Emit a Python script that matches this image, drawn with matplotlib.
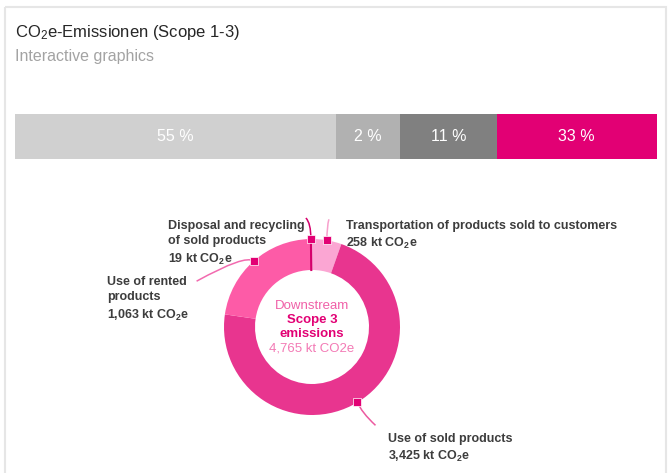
import matplotlib
matplotlib.use("Agg")
import matplotlib.pyplot as plt
from matplotlib.patches import Rectangle, PathPatch
from matplotlib.path import Path
import numpy as np

plt.rcParams['font.family'] = ['Liberation Sans Narrow', 'Liberation Sans', 'DejaVu Sans']
plt.rcParams['mathtext.default'] = 'regular'

# stacked bar (widths as drawn, labels as printed)
bar_labels = ["55 %", "2 %", "11 %", "33 %"]
bar_shares = [50, 10, 15, 25]
bar_colors = ["#d0d0d0", "#b1b1b1", "#808080", "#e20074"]

# donut: downstream scope 3 emissions, kt CO2e, clockwise from top
donut_names = ["Transportation of products sold to customers", "Use of sold products",
               "Use of rented\nproducts", "Disposal and recycling\nof sold products"]
donut_values = [258, 3425, 1063, 19]
donut_colors = ["#fba6d3", "#e8358f", "#fd5ba7", "#d5006b"]
donut_total = 4765

W, H = 669, 473
fig = plt.figure(figsize=(W / 100, H / 100), dpi=100)
ax = fig.add_axes([0, 0, 1, 1])

# donut in pixel coords (y down)
cx, cy, r_out, r_in = 312, 327, 88, 57
ax.pie(donut_values, colors=donut_colors, radius=r_out, center=(cx, cy),
       startangle=-90, counterclock=True,
       wedgeprops=dict(width=r_out - r_in, linewidth=0))
ax.set_xlim(0, W)
ax.set_ylim(H, 0)
ax.axis("off")

# card border
ax.add_patch(Rectangle((5, 7), 661, 480, fill=False, edgecolor="#e6e6e6", lw=1.5))

ax.text(15, 33, "CO$_2$e-Emissionen (Scope 1-3)", fontsize=12, color="#262626", va="center")
ax.text(15, 56, "Interactive graphics", fontsize=11.5, color="#a3a3a3", va="center")

# markers + leader lines + labels
angles = []
acc = 0
for v in donut_values:
    angles.append(360 * (acc + v / 2) / donut_total)
    acc += v

label_pos = [(346, 227), (388, 440), (107, 283), (168, 227)]
leader_ctrl = [[(0, -14), (2, -21)], [(4, 10), (18, 23)], [(-8, -7), (-57, 20)], [(0, -16), (-5, -21)]]
leader_colors = ["#f7a0cc", "#ec5aa0", "#f26aaf", "#d5006b"]

for i, name in enumerate(donut_names):
    a = np.radians(angles[i])
    mx, my = cx + r_out * np.sin(a), cy - r_out * np.cos(a)
    (c1x, c1y), (ex, ey) = leader_ctrl[i]
    path = Path([(mx, my), (mx + c1x, my + c1y), (mx + ex, my + ey)],
                [Path.MOVETO, Path.CURVE3, Path.CURVE3])
    ax.add_patch(PathPatch(path, fill=False, edgecolor=leader_colors[i], lw=1.1))
    ax.plot(mx, my, marker="s", ms=6, color="#e20074", mec="white", mew=0.5, zorder=5)
    lx, ly = label_pos[i]
    txt = name + "\n" + f"{donut_values[i]:,} kt CO$_2$e"
    ax.text(lx, ly - 7, txt, fontsize=9, fontweight="bold", color="#3d3d3d",
            ha="left", va="top", linespacing=1.38)

# disposal thin line across ring
a = np.radians(angles[3])
ax.plot([cx + r_in * np.sin(a), cx + r_out * np.sin(a)],
        [cy - r_in * np.cos(a), cy - r_out * np.cos(a)], color="#d5006b", lw=1.5)

# center text
ax.text(cx, 306, "Downstream", ha="center", va="center", fontsize=9.5, color="#f060a8")
ax.text(cx, 320, "Scope 3", ha="center", va="center", fontsize=9.5, fontweight="bold", color="#e20074")
ax.text(cx, 334, "emissions", ha="center", va="center", fontsize=9.5, fontweight="bold", color="#e20074")
ax.text(cx, 348, f"{donut_total:,} kt CO2e", ha="center", va="center", fontsize=9.5, color="#f37ab5")

# stacked bar in its own axes
bax = fig.add_axes([15 / W, (H - 159) / H, 642 / W, 45 / H])
left = 0
for lab, w, c in zip(bar_labels, bar_shares, bar_colors):
    bax.barh(0, w, left=left, height=1, color=c, linewidth=0)
    bax.text(left + w / 2, 0, lab, ha="center", va="center", color="white", fontsize=11.5)
    left += w
bax.set_xlim(0, sum(bar_shares))
bax.set_ylim(-0.5, 0.5)
bax.axis("off")

fig.savefig("out.png", dpi=100)
